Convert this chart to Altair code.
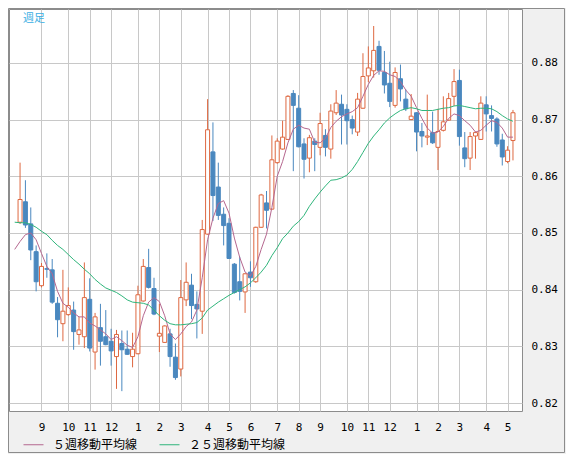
import altair as alt
import pandas as pd

# ---- weekly candles ----
open_ = [0.8519, 0.8555, 0.8516, 0.8467, 0.8407, 0.8437, 0.8435, 0.8376, 0.8340, 0.8356,
         0.8364, 0.8321, 0.8317, 0.8383, 0.8290, 0.8333, 0.8317, 0.8309, 0.8282, 0.8305,
         0.8295, 0.8282, 0.8287, 0.8380, 0.8439, 0.8402, 0.8318, 0.8307, 0.8322, 0.8281,
         0.8260, 0.8382, 0.8408, 0.8374, 0.8362, 0.8498, 0.8643, 0.8581, 0.8533, 0.8517,
         0.8445, 0.8414, 0.8396, 0.8431, 0.8414, 0.8510, 0.8553, 0.8542, 0.8624, 0.8648,
         0.8665, 0.8746, 0.8720, 0.8657, 0.8632, 0.8662, 0.8651, 0.8672, 0.8648, 0.8712,
         0.8727, 0.8718, 0.8700, 0.8678, 0.8720, 0.8777, 0.8786, 0.8829, 0.8783, 0.8764,
         0.8725, 0.8772, 0.8736, 0.8700, 0.8712, 0.8679, 0.8669, 0.8677, 0.8651, 0.8681,
         0.8699, 0.8741, 0.8769, 0.8650, 0.8632, 0.8671, 0.8665, 0.8726, 0.8707, 0.8701,
         0.8664, 0.8626, 0.8663]
high = [0.8624, 0.8593, 0.8545, 0.8478, 0.8447, 0.8464, 0.8454, 0.8387, 0.8435, 0.8404,
        0.8379, 0.8352, 0.8448, 0.8420, 0.8359, 0.8375, 0.8364, 0.8331, 0.8329, 0.8328,
        0.8328, 0.8324, 0.8407, 0.8454, 0.8472, 0.8421, 0.8375, 0.8337, 0.8331, 0.8305,
        0.8417, 0.8448, 0.8428, 0.8397, 0.8523, 0.8736, 0.8695, 0.8624, 0.8545, 0.8526,
        0.8447, 0.8458, 0.8429, 0.8450, 0.8511, 0.8569, 0.8574, 0.8672, 0.8667, 0.8698,
        0.8743, 0.8752, 0.8743, 0.8667, 0.8673, 0.8667, 0.8712, 0.8683, 0.8727, 0.8752,
        0.8744, 0.8727, 0.8707, 0.8747, 0.8817, 0.8829, 0.8865, 0.8839, 0.8821, 0.8802,
        0.8792, 0.8797, 0.8753, 0.8745, 0.8713, 0.8694, 0.8744, 0.8714, 0.8719, 0.8741,
        0.8747, 0.8789, 0.8788, 0.8678, 0.8678, 0.8679, 0.8741, 0.8741, 0.8725, 0.8704,
        0.8675, 0.8653, 0.8717]
low = [0.8516, 0.8509, 0.8452, 0.8397, 0.8404, 0.8421, 0.8375, 0.8316, 0.8309, 0.8354,
       0.8294, 0.8303, 0.8297, 0.8291, 0.8259, 0.8266, 0.8302, 0.8266, 0.8225, 0.8221,
       0.8285, 0.8263, 0.8286, 0.8379, 0.8402, 0.8355, 0.8290, 0.8306, 0.8264, 0.8241,
       0.8247, 0.8371, 0.8348, 0.8314, 0.8322, 0.8497, 0.8521, 0.8523, 0.8478, 0.8454,
       0.8393, 0.8381, 0.8359, 0.8405, 0.8412, 0.8509, 0.8508, 0.8541, 0.8622, 0.8647,
       0.8664, 0.8609, 0.8651, 0.8596, 0.8607, 0.8609, 0.8637, 0.8635, 0.8631, 0.8708,
       0.8656, 0.8656, 0.8674, 0.8671, 0.8719, 0.8766, 0.8774, 0.8779, 0.8746, 0.8722,
       0.8721, 0.8732, 0.8715, 0.8699, 0.8644, 0.8651, 0.8655, 0.8657, 0.8611, 0.8679,
       0.8698, 0.8724, 0.8654, 0.8616, 0.8611, 0.8631, 0.8664, 0.8679, 0.8679, 0.8652,
       0.8619, 0.8623, 0.8628]
close = [0.8559, 0.8514, 0.8470, 0.8414, 0.8441, 0.8436, 0.8378, 0.8347, 0.8362, 0.8372,
         0.8326, 0.8329, 0.8386, 0.8297, 0.8352, 0.8309, 0.8303, 0.8292, 0.8321, 0.8294,
         0.8286, 0.8295, 0.8391, 0.8441, 0.8404, 0.8357, 0.8323, 0.8336, 0.8282, 0.8245,
         0.8386, 0.8413, 0.8372, 0.8366, 0.8506, 0.8682, 0.8566, 0.8531, 0.8513, 0.8455,
         0.8395, 0.8397, 0.8428, 0.8421, 0.8510, 0.8567, 0.8540, 0.8629, 0.8662, 0.8669,
         0.8741, 0.8725, 0.8652, 0.8630, 0.8668, 0.8656, 0.8693, 0.8651, 0.8715, 0.8729,
         0.8708, 0.8698, 0.8685, 0.8736, 0.8776, 0.8791, 0.8822, 0.8787, 0.8761, 0.8732,
         0.8783, 0.8754, 0.8719, 0.8706, 0.8678, 0.8671, 0.8671, 0.8659, 0.8679, 0.8696,
         0.8737, 0.8767, 0.8670, 0.8631, 0.8670, 0.8677, 0.8729, 0.8710, 0.8702, 0.8657,
         0.8634, 0.8646, 0.8712]

# ---- moving averages (week -1 .. last) ----
ma5 = [0.8471, 0.8485, 0.8497, 0.8500, 0.8488, 0.8464, 0.8441, 0.8428, 0.8397, 0.8376,
       0.8369, 0.8359, 0.8352, 0.8352, 0.8341, 0.8336, 0.8329, 0.8322, 0.8312, 0.8317,
       0.8310, 0.8302, 0.8298, 0.8317, 0.8354, 0.8378, 0.8386, 0.8379, 0.8354, 0.8322,
       0.8312, 0.8322, 0.8335, 0.8343, 0.8364, 0.8421, 0.8488, 0.8526, 0.8552, 0.8557,
       0.8535, 0.8491, 0.8457, 0.8431, 0.8424, 0.8441, 0.8471, 0.8498, 0.8545, 0.8600,
       0.8626, 0.8659, 0.8683, 0.8690, 0.8685, 0.8683, 0.8660, 0.8659, 0.8667, 0.8686,
       0.8697, 0.8705, 0.8710, 0.8714, 0.8721, 0.8741, 0.8762, 0.8778, 0.8786, 0.8785,
       0.8779, 0.8776, 0.8767, 0.8752, 0.8741, 0.8721, 0.8702, 0.8685, 0.8676, 0.8678,
       0.8688, 0.8702, 0.8710, 0.8707, 0.8698, 0.8690, 0.8678, 0.8681, 0.8690, 0.8698,
       0.8695, 0.8685, 0.8669, 0.8669]
ma25 = [0.8519, 0.8518, 0.8518, 0.8515, 0.8510, 0.8503, 0.8497, 0.8487, 0.8478, 0.8471,
        0.8462, 0.8453, 0.8445, 0.8436, 0.8428, 0.8418, 0.8410, 0.8403, 0.8399, 0.8395,
        0.8389, 0.8382, 0.8378, 0.8377, 0.8376, 0.8373, 0.8364, 0.8354, 0.8346, 0.8340,
        0.8338, 0.8338, 0.8339, 0.8340, 0.8342, 0.8350, 0.8364, 0.8371, 0.8378, 0.8384,
        0.8390, 0.8395, 0.8400, 0.8405, 0.8412, 0.8421, 0.8431, 0.8443, 0.8460, 0.8474,
        0.8490, 0.8500, 0.8512, 0.8520, 0.8531, 0.8547, 0.8560, 0.8572, 0.8583, 0.8593,
        0.8594, 0.8597, 0.8602, 0.8612, 0.8626, 0.8642, 0.8658, 0.8671, 0.8682, 0.8694,
        0.8703, 0.8710, 0.8716, 0.8719, 0.8721, 0.8719, 0.8716, 0.8716, 0.8716, 0.8718,
        0.8720, 0.8721, 0.8724, 0.8725, 0.8723, 0.8721, 0.8719, 0.8720, 0.8720, 0.8719,
        0.8714, 0.8707, 0.8701, 0.8697]

month_idx = [4, 9, 13, 17, 22, 26, 30, 35, 39, 43, 48, 52, 56, 61, 65, 69, 74, 78, 82, 87, 91]
month_labels = ["9", "10", "11", "12", "1", "2", "3", "4", "5", "6", "7",
                "8", "9", "10", "11", "12", "1", "2", "3", "4", "5"]
y_ticks = [0.82, 0.83, 0.84, 0.85, 0.86, 0.87, 0.88]
series_names = ["５週移動平均線", "２５週移動平均線"]

UP = "#de6840"
DOWN = "#4a88bf"
MA5_C = "#b5678f"
MA25_C = "#2fb57b"
GRID = "#c8c8c8"
FRAME = "#8c8c8c"

W, H = 513, 402
PAD_R, PAD_B = 44, 43

n = len(open_)
candles = pd.DataFrame({"i": list(range(n)), "open": open_, "high": high,
                        "low": low, "close": close})
up = candles[candles["close"] >= candles["open"]]
dn = candles[candles["close"] < candles["open"]]

ma_df = pd.DataFrame({
    "i": list(range(-1, n)) * 2,
    "value": ma5 + ma25,
    "series": [series_names[0]] * len(ma5) + [series_names[1]] * len(ma25),
})

xscale = alt.Scale(domain=[-1.13, 92.75], nice=False, zero=False)
yscale = alt.Scale(domain=[0.8186, 0.8895], nice=False, zero=False)

label_expr = "[" + ",".join("'%s'" % m for m in month_labels) + "][indexof([" + \
    ",".join(str(v) for v in month_idx) + "], datum.value)]"

xaxis = alt.Axis(values=month_idx, labelExpr=label_expr, grid=True, gridColor=GRID,
                 ticks=False, domain=False, title=None, labelFont="DejaVu Sans Mono",
                 labelFontSize=11, labelColor="#000000", labelPadding=10,
                 labelFlush=False, labelOverlap=False)
yaxis = alt.Axis(orient="right", values=y_ticks, format=".2f", grid=True, gridColor=GRID,
                 ticks=False, domain=False, title=None, labelFont="DejaVu Sans Mono",
                 labelFontSize=11, labelColor="#000000", labelPadding=9,
                 labelFlush=False, labelOverlap=False)

X = alt.X("i:Q", scale=xscale, axis=xaxis)

wick_up = alt.Chart(up).mark_rule(color=UP, strokeWidth=1).encode(
    x=X, y=alt.Y("low:Q", scale=yscale, axis=yaxis), y2="high:Q")
wick_dn = alt.Chart(dn).mark_rule(color=DOWN, strokeWidth=1).encode(
    x=X, y=alt.Y("low:Q", scale=yscale, axis=yaxis), y2="high:Q")
body_up = alt.Chart(up).mark_bar(orient="vertical", width=4, fill="white",
                                 stroke=UP, strokeWidth=1).encode(
    x=X, y=alt.Y("open:Q", scale=yscale, axis=yaxis), y2="close:Q")
body_dn = alt.Chart(dn).mark_bar(orient="vertical", width=4, fill=DOWN,
                                 stroke=DOWN, strokeWidth=1).encode(
    x=X, y=alt.Y("open:Q", scale=yscale, axis=yaxis), y2="close:Q")

lines = alt.Chart(ma_df).mark_line(strokeWidth=1).encode(
    x=X,
    y=alt.Y("value:Q", scale=yscale, axis=yaxis),
    color=alt.Color("series:N",
                    scale=alt.Scale(domain=series_names, range=[MA5_C, MA25_C]),
                    legend=alt.Legend(orient="none", legendX=14, legendY=H + 23,
                                      direction="horizontal", columns=2, title=None,
                                      symbolType="stroke", symbolSize=400,
                                      symbolStrokeWidth=1, labelFont="Noto Sans CJK JP",
                                      labelFontSize=12, labelColor="#000000",
                                      labelOffset=9, columnPadding=19, padding=0)),
)

tag = alt.Chart(pd.DataFrame({"t": ["週足"]})).mark_text(
    align="left", baseline="middle", font="Noto Sans CJK JP", fontSize=11,
    color="#3aaee3").encode(text="t:N", x=alt.value(14), y=alt.value(10))

frame = alt.Chart(pd.DataFrame({"f": [1]})).mark_rect(
    fillOpacity=0, stroke=FRAME, strokeWidth=1).encode(
    x=alt.value(-0.5), x2=alt.value(W + PAD_R - 1.5),
    y=alt.value(-0.5), y2=alt.value(H + PAD_B - 1.5))

chart = alt.layer(wick_up, wick_dn, body_up, body_dn, lines, tag, frame).properties(
    width=W, height=H, autosize="none",
    padding={"left": 1, "top": 1, "right": PAD_R, "bottom": PAD_B},
    background="#f0f0f0",
).configure_view(fill="white", stroke=FRAME, strokeWidth=1)

chart.save("out.html", embed_options={"renderer": "svg", "actions": False})
